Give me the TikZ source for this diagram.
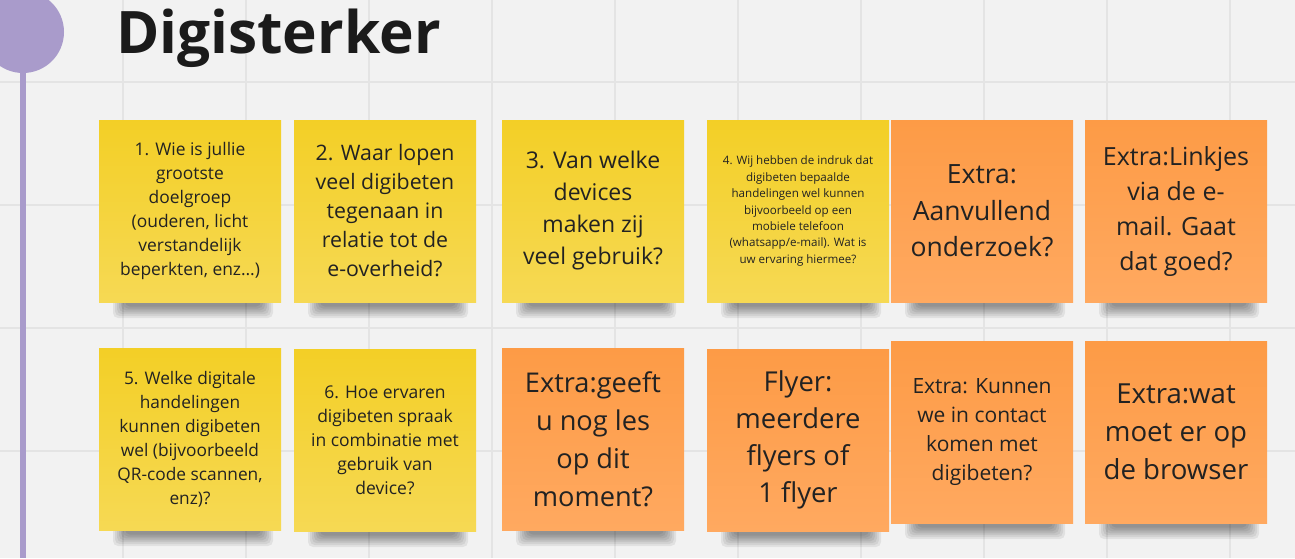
\documentclass[tikz,border=0pt]{standalone}
\usepackage{fontspec}
\setmainfont{Open Sans}
\usetikzlibrary{calc,backgrounds}
\definecolor{bg}{HTML}{F2F2F2}
\definecolor{gridc}{HTML}{E4E4E4}
\definecolor{purp}{HTML}{A99BCB}
\definecolor{yTop}{HTML}{F3CF26}
\definecolor{yBot}{HTML}{F6D954}
\definecolor{oTop}{HTML}{FD9B46}
\definecolor{oBot}{HTML}{FFA960}
\definecolor{txt}{HTML}{222222}
\tikzset{
  note/.style={minimum width=182pt, minimum height=182pt, inner sep=0pt, outer sep=0pt,
    anchor=north west, align=center, text=txt},
  yel/.style={note, top color=yTop, bottom color=yBot},
  org/.style={note, top color=oTop, bottom color=oBot},
  fs/.style 2 args={font=\fontsize{#1}{#2}\selectfont},
  gridline/.style={draw=gridc, line width=1.5pt},
}
\begin{document}
\begin{tikzpicture}[x=1pt,y=-1pt]
\useasboundingbox (0,0) rectangle (1295,558);
% notes
\node[yel, fs={17.4}{24}] (n1) at (99,120) {1. Wie is jullie\\grootste\\doelgroep\\(ouderen, licht\\verstandelijk\\beperkten, enz…)};
\node[yel, fs={21.3}{29}] (n2) at (294,120) {2. Waar lopen\\veel digibeten\\tegenaan in\\relatie tot de\\e-overheid?};
\node[yel, fs={23}{32}] (n3) at (502,120) {3. Van welke\\devices\\maken zij\\veel gebruik?};
\node[yel, fs={11.6}{16.4}] (n4) at (707,120) {4. Wij hebben de indruk dat\\digibeten bepaalde\\handelingen wel kunnen\\bijvoorbeeld op een\\mobiele telefoon\\(whatsapp/e-mail). Wat is\\uw ervaring hiermee?};
\node[org, fs={26.5}{36.7}] (n5) at (891,120) {Extra:\\Aanvullend\\onderzoek?};
\node[org, fs={25}{35}] (n6) at (1085,120) {Extra:Linkjes\\via de e-\\mail. Gaat\\dat goed?};
\node[yel, fs={17.3}{24}] (n7) at (99,348) {5. Welke digitale\\handelingen\\kunnen digibeten\\wel (bijvoorbeeld\\QR-code scannen,\\enz)?};
\node[yel, fs={17.5}{24}] (n8) at (294,349) {6. Hoe ervaren\\digibeten spraak\\in combinatie met\\gebruik van\\device?};
\node[org, fs={27.2}{38}] (n9) at (502,348) {Extra:geeft\\u nog les\\op dit\\moment?};
\node[org, fs={27.4}{37}] (n10) at (707,349) {Flyer:\\meerdere\\flyers of\\1 flyer};
\node[org, fs={21}{29}] (n11) at (891,341) {Extra: Kunnen\\we in contact\\komen met\\digibeten?};
\node[org, fs={27.6}{38}] (n12) at (1085,341) {Extra:wat\\moet er op\\de browser};
% title
\node[anchor=base west, inner sep=0pt, text=txt!80!black, font=\fontsize{58.6}{62}\selectfont\bfseries] (title) at (116,53) {Digisterker};
\begin{scope}[on background layer]
  \fill[bg] (0,0) rectangle (1295,558);
  \foreach \gx in {123,246,...,1300} \draw[gridline] (\gx,0) -- (\gx,558);
  \foreach \gy in {82,205,328,451} \draw[gridline] (0,\gy) -- (1295,\gy);
  \draw[purp, line width=6pt] (23,32) -- (23,558);
  \fill[purp] (23,32) circle[radius=41];
  \foreach \n in {n1,n2,n3,n4,n5,n6,n7,n8,n9,n10,n11,n12} {
    \foreach \i in {0,...,6} {
      \fill[black, opacity=0.065, rounded corners=5pt]
        ($(\n.south west)+(14+2*\i,-6)$) rectangle ($(\n.south east)+(-8-2*\i,16-1.9*\i)$);
    }
  }
\end{scope}
\end{tikzpicture}
\end{document}
